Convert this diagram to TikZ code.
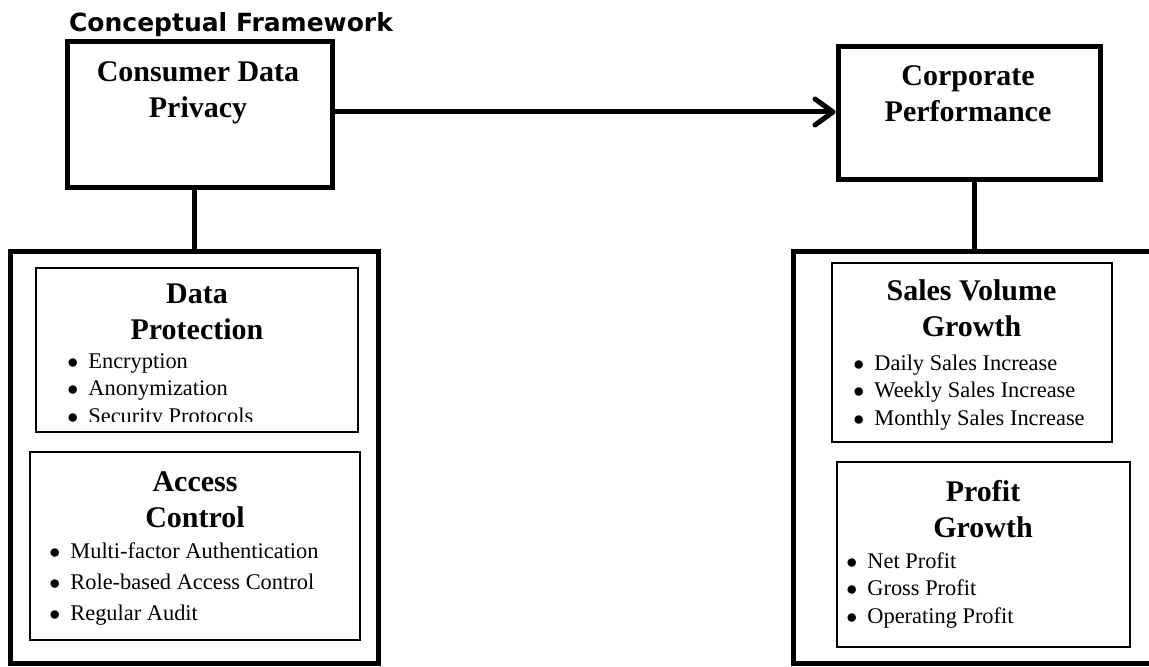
\documentclass[tikz,border=0pt]{standalone}
\usepackage{fontspec}
\setmainfont{Liberation Serif}
\newfontfamily\titlefont{DejaVu Sans}
\usetikzlibrary{arrows.meta}
\newcommand{\itm}[1]{\makebox[10.5pt][l]{$\bullet$}#1}

\begin{document}
\begin{tikzpicture}[x=0.5pt, y=-0.5pt,
    outer/.style={draw, line width=2.5pt, inner sep=0pt},
    panel/.style={draw, line width=0.8pt, inner sep=0pt},
    head/.style={font=\bfseries\fontsize{15}{18}\selectfont, align=center, inner sep=0pt, anchor=base},
    items/.style={font=\fontsize{11.2}{13.75}\selectfont, align=left, inner sep=0pt, anchor=base west},
    link/.style={line width=2.5pt}]
    \useasboundingbox (0,0) rectangle (1149,667);

    % Titulo
    \node[font=\titlefont\bfseries\fontsize{12.5}{15}\selectfont, anchor=base] (title) at (231,32) {Conceptual Framework};

    % Variaveis principais
    \node[outer, minimum width=132.5pt, minimum height=73pt] (cdp) at (199.5,115) {};
    \node[head] (cdptxt) at (198,118) {Consumer Data\\Privacy};
    \node[outer, minimum width=131pt, minimum height=66.5pt] (cp) at (969,113.5) {};
    \node[head] (cptxt) at (968,122) {Corporate\\Performance};

    % Relacao
    \draw[link, -{Straight Barb[length=9pt, width=13pt, round]}] ([yshift=1.5pt]cdp.east) -- ([yshift=1.5pt]cdp.east -| cp.west);

    % Dimensoes (lado esquerdo)
    \node[outer, minimum width=184pt, minimum height=205.5pt] (left) at (194,457.5) {};
    \draw[link] (cdp.south -| left.north) -- (left.north);

    \node[panel, minimum width=161pt, minimum height=82pt] (dp) at (197,350) {};
    \node[head] (dphead) at (197,340) {Data\\Protection};
    \begin{scope}
        \clip (36,268) rectangle (358,421);
        \node[items] (dplist) at (67,423) {\itm{Encryption}\\\itm{Anonymization}\\\itm{Security Protocols}};
    \end{scope}

    \node[panel, minimum width=165pt, minimum height=94pt] (ac) at (195,546) {};
    \node[head] (achead) at (195,527) {Access\\Control};
    \node[items, font=\fontsize{11.2}{15.5}\selectfont] (aclist) at (49,620) {\itm{Multi-factor Authentication}\\\itm{Role-based Access Control}\\\itm{Regular Audit}};

    % Indicadores (lado direito)
    \coordinate (rtop) at (974,252);
    \draw[link] (1152,252) -- (793,252) -- (793,663) -- (1152,663);
    \draw[link] (cp.south -| rtop) -- (rtop);

    \node[panel, minimum width=140pt, minimum height=89.5pt] (sv) at (972,352.5) {};
    \node[head] (svhead) at (971.5,337) {Sales Volume\\Growth};
    \node[items] (svlist) at (853,425) {\itm{Daily Sales Increase}\\\itm{Weekly Sales Increase}\\\itm{Monthly Sales Increase}};

    \node[panel, minimum width=146.5pt, minimum height=92.5pt] (pg) at (983.5,554.5) {};
    \node[head] (pghead) at (983,537) {Profit\\Growth};
    \node[items] (pglist) at (846,623) {\itm{Net Profit}\\\itm{Gross Profit}\\\itm{Operating Profit}};
\end{tikzpicture}
\end{document}
